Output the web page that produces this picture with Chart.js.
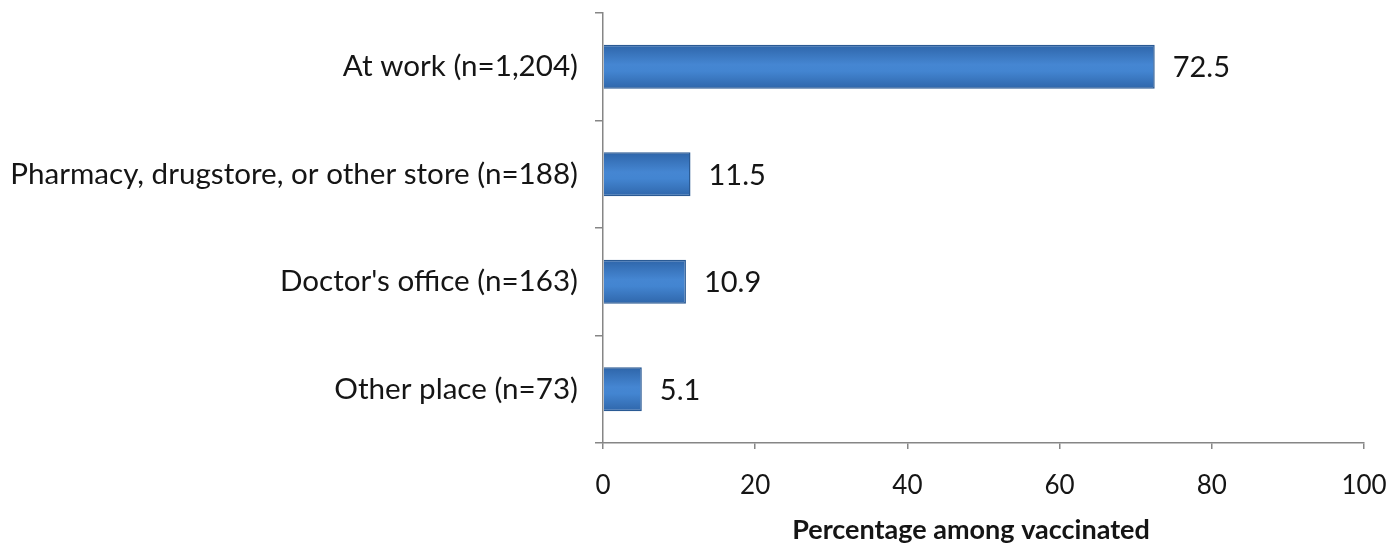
<!DOCTYPE html>
<html>
<head>
<meta charset="utf-8">
<script src="https://cdn.jsdelivr.net/npm/chart.js@4.4.1/dist/chart.umd.min.js"></script>
<style>
  html, body { margin: 0; padding: 0; background: #fff; }
  #wrap { width: 1395px; height: 547px; }
</style>
</head>
<body>
<div id="wrap"><canvas id="chart" width="1395" height="547"></canvas></div>
<script>
// ── Data ──────────────────────────────────────────────
const places = [
  'At work (n=1,204)',
  'Pharmacy, drugstore, or other store (n=188)',
  "Doctor's office (n=163)",
  'Other place (n=73)',
];
const pctVaccinated = [72.5, 11.5, 10.9, 5.1];
const xTicks = [0, 20, 40, 60, 80, 100];

const FONT = 'Lato, "Open Sans", sans-serif';
const AXIS_GREY = '#868686';
const TEXT = '#151515';

// shaded bar fill: darker edges, lighter middle band
function barFill(ctx) {
  const chart = ctx.chart;
  const el = chart.getDatasetMeta(0).data[ctx.dataIndex];
  if (!el || !el.height) return '#3b79c6';
  const top = el.y - el.height / 2;
  const g = chart.ctx.createLinearGradient(0, top, 0, top + el.height);
  g.addColorStop(0, '#2e65a9');
  g.addColorStop(0.45, '#4586d2');
  g.addColorStop(0.6, '#4385d1');
  g.addColorStop(1, '#2f66aa');
  return g;
}

// value labels at the end of each bar
const barValues = {
  id: 'barValues',
  afterDatasetsDraw(chart) {
    const ctx = chart.ctx;
    const meta = chart.getDatasetMeta(0);
    ctx.save();
    ctx.font = '29px ' + FONT;
    ctx.fillStyle = TEXT;
    ctx.textAlign = 'left';
    ctx.textBaseline = 'middle';
    meta.data.forEach((bar, i) => {
      ctx.fillText(pctVaccinated[i].toFixed(1), bar.x + 18, bar.y + 1);
    });
    ctx.restore();
  },
};

// axis title, centred a little left of the plot centre
const xTitle = {
  id: 'xTitle',
  afterDraw(chart) {
    const ctx = chart.ctx;
    ctx.save();
    ctx.font = 'bold 27px ' + FONT;
    ctx.fillStyle = TEXT;
    ctx.textAlign = 'center';
    ctx.textBaseline = 'middle';
    ctx.fillText('Percentage among vaccinated', chart.chartArea.left + 368, 530);
    ctx.restore();
  },
};

const chart = new Chart(document.getElementById('chart'), {
  type: 'bar',
  data: {
    labels: places,
    datasets: [{
      data: pctVaccinated,
      backgroundColor: barFill,
      borderColor: '#2a5a94',
      borderWidth: 1.5,
      categoryPercentage: 1,
      barPercentage: 0.41,
    }],
  },
  options: {
    indexAxis: 'y',
    responsive: false,
    animation: false,
    layout: { padding: { left: 0, right: 31, top: 13, bottom: 0 } },
    plugins: {
      legend: { display: false },
      tooltip: { enabled: false },
    },
    scales: {
      x: {
        min: 0,
        max: 100,
        afterBuildTicks: s => { s.ticks = xTicks.map(v => ({ value: v })); },
        afterFit: s => { s.height = 104; s.paddingLeft = 0; s.paddingRight = 0; },
        border: { display: true, color: AXIS_GREY, width: 1.5 },
        grid: { drawOnChartArea: false, drawTicks: true, tickLength: 6, color: AXIS_GREY, lineWidth: 1.5 },
        ticks: { color: TEXT, font: { family: FONT, size: 26 }, padding: 21, maxRotation: 0 },
      },
      y: {
        afterFit: s => { s.width = 603; s.paddingTop = 0; s.paddingBottom = 0; },
        border: { display: true, color: AXIS_GREY, width: 1.5 },
        grid: { offset: true, drawOnChartArea: false, drawTicks: true, tickLength: 8, color: AXIS_GREY, lineWidth: 1.5 },
        ticks: { color: TEXT, font: { family: FONT, size: 29.6 }, padding: 17 },
      },
    },
  },
  plugins: [barValues, xTitle],
});
// second pass so the gradient can read bar positions
chart.update();
</script>
</body>
</html>
